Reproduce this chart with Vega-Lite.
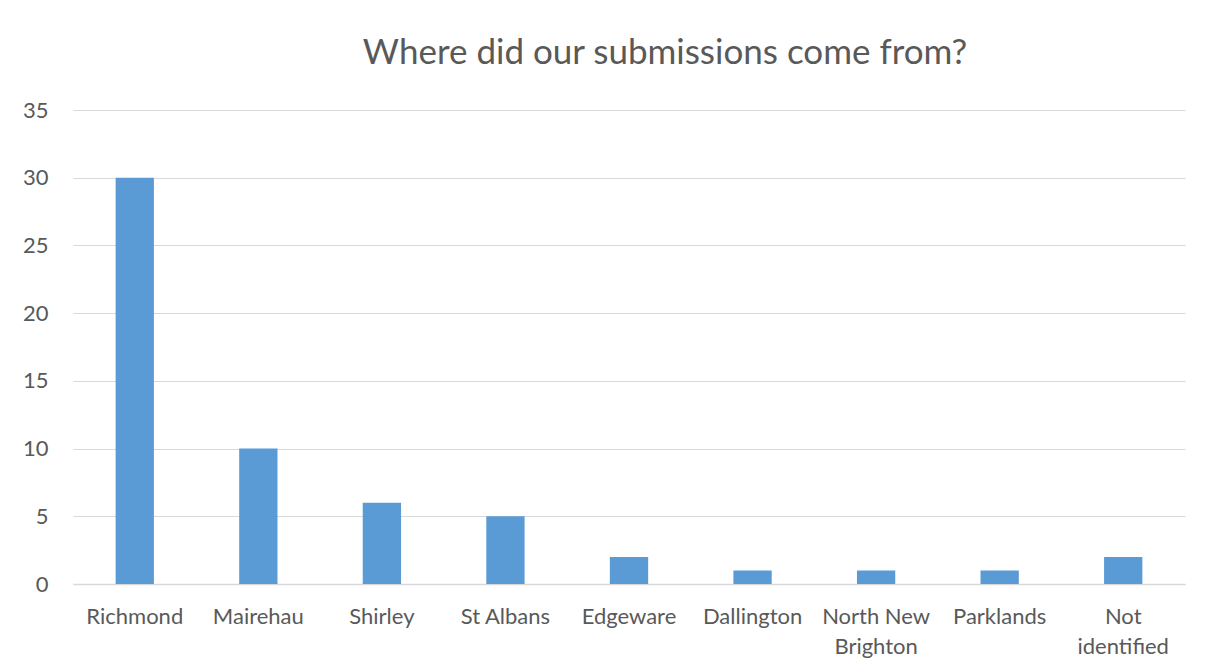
{
  "$schema": "https://vega.github.io/schema/vega-lite/v6.json",
  "autosize": "none",
  "width": 1112,
  "height": 474,
  "padding": {"left": 73, "top": 110, "right": 23, "bottom": 85},
  "background": "white",
  "title": {
    "text": "Where did our submissions come from?",
    "font": "Lato",
    "fontSize": 35,
    "fontWeight": "normal",
    "color": "#595959",
    "anchor": "middle",
    "dx": 36,
    "offset": 28
  },
  "data": {
    "values": [
      {"suburb": "Richmond", "count": 30},
      {"suburb": "Mairehau", "count": 10},
      {"suburb": "Shirley", "count": 6},
      {"suburb": "St Albans", "count": 5},
      {"suburb": "Edgeware", "count": 2},
      {"suburb": "Dallington", "count": 1},
      {"suburb": "North New Brighton", "count": 1},
      {"suburb": "Parklands", "count": 1},
      {"suburb": "Not identified", "count": 2}
    ]
  },
  "mark": {"type": "bar", "color": "#5B9BD5"},
  "encoding": {
    "x": {
      "field": "suburb",
      "type": "nominal",
      "sort": null,
      "scale": {"paddingInner": 0.69, "paddingOuter": 0.345},
      "axis": {
        "title": null,
        "labelAngle": 0,
        "labelFont": "Lato",
        "labelFontSize": 22,
        "labelColor": "#595959",
        "labelPadding": 22,
        "labelLineHeight": 30,
        "ticks": false,
        "domainColor": "#d9d9d9",
        "domainWidth": 1.5,
        "labelExpr": "datum.label == 'North New Brighton' ? ['North New', 'Brighton'] : datum.label == 'Not identified' ? ['Not', 'identified'] : datum.label"
      }
    },
    "y": {
      "field": "count",
      "type": "quantitative",
      "scale": {"domain": [0, 35]},
      "axis": {
        "title": null,
        "values": [0, 5, 10, 15, 20, 25, 30, 35],
        "labelFont": "Lato",
        "labelFontSize": 22,
        "labelColor": "#595959",
        "labelPadding": 25,
        "ticks": false,
        "domain": false,
        "gridColor": "#d9d9d9",
        "gridWidth": 1.2
      }
    }
  },
  "config": {"view": {"stroke": null}}
}
